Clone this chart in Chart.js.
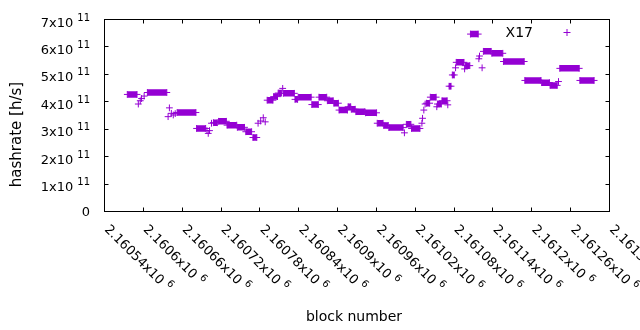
<!DOCTYPE html>
<html><head><meta charset="utf-8">
<script src="https://cdn.jsdelivr.net/npm/chart.js@4/dist/chart.umd.min.js"></script>
<style>html,body{margin:0;padding:0;background:#fff}</style>
</head><body>
<canvas id="c" width="640" height="330"></canvas>
<script>
// ---- data ----
const seriesLabel = 'X17';
const xTitle = 'block number';
const yTitle = 'hashrate [h/s]';
// runs of equal value: first block, last block, hashrate (h/s)
const runStart = [2160576,2160593,2160596,2160598,2160602,2160607,2160639,2160641,2160644,2160647,2160650,2160653,2160683,2160699,2160701,2160703,2160706,2160709,2160717,2160730,2160746,2160759,2160770,2160778,2160782,2160786,2160789,2160792,2160802,2160809,2160816,2160817,2160835,2160840,2160861,2160872,2160885,2160895,2160903,2160917,2160922,2160929,2160944,2160962,2160972,2160980,2161004,2161007,2161015,2161031,2161032,2161034,2161036,2161038,2161044,2161054,2161055,2161062,2161071,2161073,2161078,2161083,2161084,2161097,2161098,2161106,2161119,2161120,2161124,2161126,2161139,2161157,2161190,2161216,2161229,2161242,2161244,2161275];
const runEnd   = [2160591,2160593,2160596,2160598,2160602,2160637,2160639,2160641,2160644,2160647,2160650,2160682,2160697,2160699,2160701,2160703,2160706,2160715,2160729,2160745,2160757,2160768,2160776,2160778,2160782,2160786,2160789,2160801,2160808,2160814,2160816,2160834,2160839,2160860,2160871,2160884,2160894,2160902,2160916,2160921,2160928,2160943,2160961,2160971,2160979,2161002,2161004,2161014,2161028,2161031,2161032,2161034,2161036,2161043,2161053,2161054,2161061,2161070,2161071,2161076,2161081,2161083,2161096,2161097,2161105,2161118,2161119,2161120,2161124,2161138,2161156,2161189,2161215,2161228,2161240,2161242,2161274,2161297];
const runValue = [4.25e11,3.90e11,4.02e11,4.10e11,4.19e11,4.32e11,3.44e11,3.76e11,3.56e11,3.50e11,3.55e11,3.59e11,3.01e11,2.93e11,2.83e11,2.93e11,3.20e11,3.22e11,3.27e11,3.13e11,3.05e11,2.89e11,2.68e11,3.20e11,3.28e11,3.40e11,3.25e11,4.04e11,4.17e11,4.30e11,4.47e11,4.29e11,4.07e11,4.15e11,3.88e11,4.15e11,4.02e11,3.93e11,3.68e11,3.80e11,3.71e11,3.62e11,3.58e11,3.20e11,3.12e11,3.04e11,2.85e11,3.16e11,3.01e11,3.20e11,3.38e11,3.68e11,3.90e11,3.93e11,4.15e11,3.80e11,3.90e11,4.02e11,3.87e11,4.55e11,4.96e11,5.22e11,5.42e11,5.18e11,5.30e11,6.45e11,5.55e11,5.65e11,5.22e11,5.82e11,5.75e11,5.45e11,4.76e11,4.68e11,4.58e11,4.72e11,5.20e11,4.76e11];

const xTickValues = [2160540,2160600,2160660,2160720,2160780,2160840,2160900,2160960,2161020,2161080,2161140,2161200,2161260,2161320];
const xTickLabels = ['2.16054x10^6','2.1606x10^6','2.16066x10^6','2.16072x10^6','2.16078x10^6','2.16084x10^6','2.1609x10^6','2.16096x10^6','2.16102x10^6','2.16108x10^6','2.16114x10^6','2.1612x10^6','2.16126x10^6','2.16132x10^6'];
const yTickValues = [0,1e11,2e11,3e11,4e11,5e11,6e11,7e11];
const yTickLabels = ['0','1x10^11','2x10^11','3x10^11','4x10^11','5x10^11','6x10^11','7x10^11'];

// ---- build the dataset ----
const points = [];
for (let i = 0; i < runStart.length; i++) {
  points.push({x: runStart[i], y: runValue[i]});
  if (runEnd[i] !== runStart[i]) points.push({x: runEnd[i], y: runValue[i]});
  points.push({x: runEnd[i], y: null});
}

const COLOR = '#9400d3';
const FONT = "'DejaVu Sans'";

function splitSup(t) { const k = t.indexOf('^'); return k < 0 ? [t, ''] : [t.slice(0, k), t.slice(k + 1)]; }

const gnuplotLook = {
  id: 'gnuplotLook',
  afterDraw(chart) {
    const {ctx, chartArea: a, scales: {x, y}} = chart;
    ctx.save();
    ctx.strokeStyle = '#000';
    ctx.lineWidth = 1;
    const L = Math.round(a.left) + 0.5, R = Math.round(a.right) + 0.5;
    const T = Math.round(a.top) + 0.5, B = Math.round(a.bottom) + 0.5;
    ctx.strokeRect(L, T, R - L, B - T);
    const tl = 4;
    ctx.beginPath();
    xTickValues.forEach(v => {
      const px = Math.round(x.getPixelForValue(v)) + 0.5;
      ctx.moveTo(px, B); ctx.lineTo(px, B - tl);
      ctx.moveTo(px, T); ctx.lineTo(px, T + tl);
    });
    yTickValues.forEach(v => {
      const py = Math.round(y.getPixelForValue(v)) + 0.5;
      ctx.moveTo(L, py); ctx.lineTo(L + tl, py);
      ctx.moveTo(R, py); ctx.lineTo(R - tl, py);
    });
    ctx.stroke();

    ctx.fillStyle = '#000';
    ctx.textBaseline = 'alphabetic';
    // y tick labels
    const mainF = '13px ' + FONT, supF = '10px ' + FONT;
    yTickValues.forEach((v, i) => {
      const py = y.getPixelForValue(v);
      const [base, sup] = splitSup(yTickLabels[i]);
      const rx = 90;
      ctx.textAlign = 'right';
      if (!sup) { ctx.font = mainF; ctx.fillText(base, rx, py + 5); return; }
      ctx.font = supF;
      const sw = ctx.measureText(sup).width;
      ctx.fillText(sup, rx, py + 1.5);
      ctx.font = mainF;
      ctx.fillText(base, rx - sw - 4, py + 7.5);
    });
    // x tick labels, rotated 45 deg clockwise, starting at the tick
    xTickValues.forEach((v, i) => {
      const px = x.getPixelForValue(v);
      const [base, sup] = splitSup(xTickLabels[i]);
      ctx.save();
      ctx.translate(px, a.bottom + 19);
      ctx.rotate(Math.PI / 4);
      ctx.textAlign = 'left';
      ctx.font = mainF;
      ctx.fillText(base, 0, 0);
      const bw = ctx.measureText(base).width;
      if (sup) { ctx.font = supF; ctx.fillText(sup, bw + 4, -6); }
      ctx.restore();
    });
    // axis titles
    ctx.font = '14px ' + FONT;
    ctx.textAlign = 'center';
    ctx.fillText(xTitle, 354, 321);
    ctx.save();
    ctx.translate(21, 134.5);
    ctx.rotate(-Math.PI / 2);
    ctx.font = '15px ' + FONT;
    ctx.fillText(yTitle, 0, 0);
    ctx.restore();
    // key
    ctx.font = '14px ' + FONT;
    ctx.textAlign = 'right';
    ctx.fillText(chart.data.datasets[0].label, 533, 37);
    ctx.strokeStyle = COLOR;
    ctx.beginPath();
    ctx.moveTo(563.5, 32.5); ctx.lineTo(570.5, 32.5);
    ctx.moveTo(567, 29); ctx.lineTo(567, 36);
    ctx.stroke();
    ctx.restore();
  }
};

new Chart(document.getElementById('c'), {
  type: 'line',
  data: { datasets: [{
    label: seriesLabel,
    data: points,
    borderColor: COLOR,
    backgroundColor: COLOR,
    borderWidth: 6.5,
    borderCapStyle: 'butt',
    spanGaps: false,
    tension: 0,
    pointStyle: 'cross',
    pointRadius: 3.4,
    pointHoverRadius: 3.4,
    pointBorderWidth: 1,
    pointBorderColor: COLOR,
    pointBackgroundColor: COLOR
  }]},
  options: {
    responsive: false,
    animation: false,
    devicePixelRatio: 1,
    events: [],
    layout: { padding: { left: 0, right: 31, top: 19, bottom: 0 } },
    plugins: { legend: { display: false }, tooltip: { enabled: false } },
    scales: {
      x: { type: 'linear', min: xTickValues[0], max: xTickValues[xTickValues.length - 1],
           ticks: { display: false }, grid: { display: false }, border: { display: false },
           afterFit(s) { s.height = 119; } },
      y: { type: 'linear', min: yTickValues[0], max: yTickValues[yTickValues.length - 1],
           ticks: { display: false }, grid: { display: false }, border: { display: false },
           afterFit(s) { s.width = 104; } }
    }
  },
  plugins: [gnuplotLook]
});
</script>
</body></html>
